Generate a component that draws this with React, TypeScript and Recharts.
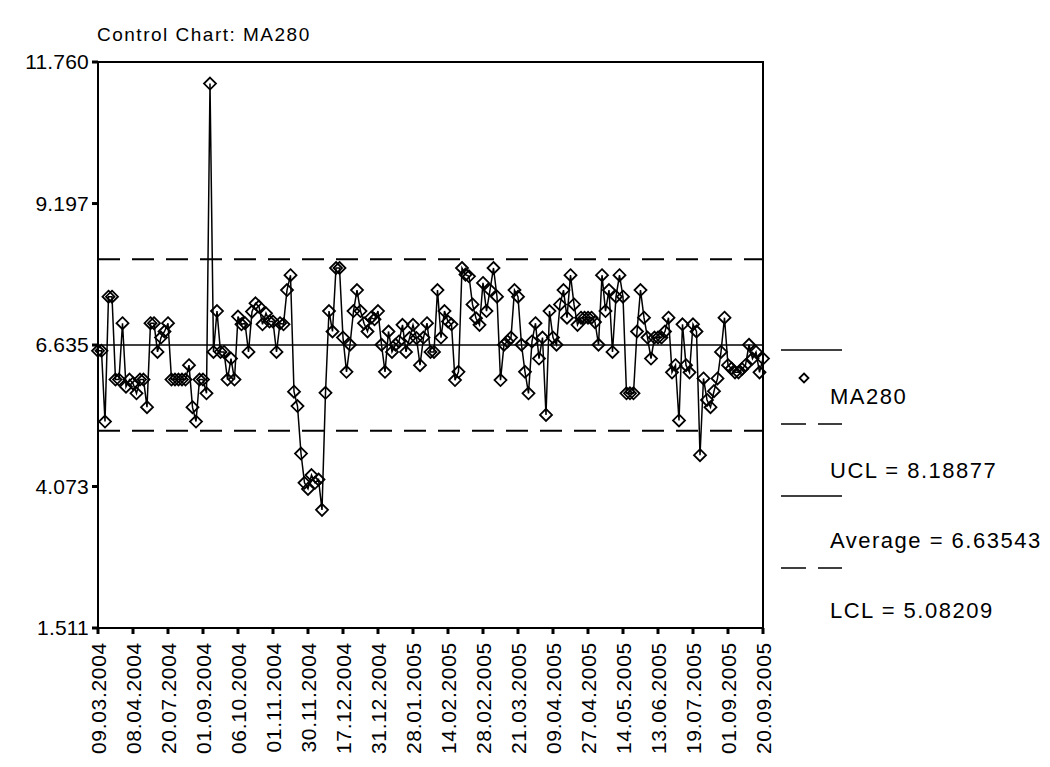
import React from "react";
import {
  LineChart,
  Line,
  XAxis,
  YAxis,
  ReferenceLine,
  ReferenceArea,
} from "recharts";

// tick labels on the category axis (every 10th observation)
const dateLabels = [
  "09.03.2004", "08.04.2004", "20.07.2004", "01.09.2004", "06.10.2004",
  "01.11.2004", "30.11.2004", "17.12.2004", "31.12.2004", "28.01.2005",
  "14.02.2005", "28.02.2005", "21.03.2005", "09.04.2005", "27.04.2005",
  "14.05.2005", "13.06.2005", "19.07.2005", "01.09.2005", "20.09.2005",
];

// MA280 readings
const ma280 = [
  6.53, 6.53, 5.25, 7.51, 7.51, 6.01, 6.01, 7.03, 5.88, 6.01,
  5.94, 5.76, 6.01, 6.01, 5.51, 7.03, 7.03, 6.51, 6.77, 6.88,
  7.03, 6.01, 6.01, 6.01, 6.01, 6.01, 6.27, 5.51, 5.25, 6.01,
  6.01, 5.76, 11.37, 6.51, 7.25, 6.51, 6.51, 6.01, 6.39, 6.01,
  7.15, 7.01, 7.03, 6.51, 7.24, 7.39, 7.33, 7.01, 7.21, 7.06,
  7.06, 6.51, 7.03, 7.01, 7.63, 7.9, 5.79, 5.53, 4.67, 4.14,
  4.03, 4.28, 4.14, 4.2, 3.65, 5.77, 7.25, 6.88, 8.03, 8.03,
  6.77, 6.15, 6.64, 7.25, 7.63, 7.25, 7.03, 6.88, 7.13, 7.1,
  7.25, 6.64, 6.15, 6.88, 6.51, 6.64, 6.7, 7.0, 6.51, 6.76,
  7.0, 6.76, 6.27, 6.77, 7.03, 6.51, 6.51, 7.63, 6.77, 7.25,
  7.06, 7.01, 6.0, 6.15, 8.03, 7.91, 7.88, 7.37, 7.12, 7.0,
  7.76, 7.25, 7.63, 8.03, 7.51, 6.0, 6.64, 6.7, 6.77, 7.63,
  7.51, 6.64, 6.15, 5.76, 6.7, 7.03, 6.39, 6.77, 5.37, 7.25,
  6.77, 6.64, 7.37, 7.63, 7.13, 7.9, 7.37, 7.0, 7.13, 7.13,
  7.13, 7.13, 7.05, 6.64, 7.9, 7.25, 7.63, 6.51, 7.51, 7.9,
  7.51, 5.76, 5.76, 5.76, 6.88, 7.63, 7.13, 6.77, 6.39, 6.77,
  6.77, 6.77, 6.88, 7.13, 6.14, 6.27, 5.27, 7.01, 6.27, 6.14,
  7.01, 6.88, 4.64, 6.03, 5.64, 5.51, 5.8, 6.03, 6.51, 7.13,
  6.27, 6.21, 6.14, 6.14, 6.2, 6.27, 6.64, 6.39, 6.51, 6.14,
  6.39,
];

const yTicks = [1.511, 4.073, 6.635, 9.197, 11.76];
const UCL = 8.18877;
const AVG = 6.63543;
const LCL = 5.08209;

const data = ma280.map((v, i) => ({ i, v }));
const xTicks = dateLabels.map((_, k) => k * 10);

const FONT = "'Liberation Sans', Arial, sans-serif";

const Diamond = (props: any) => {
  const { cx, cy, index } = props;
  if (cx == null || cy == null) return <g key={index} />;
  const r = 6;
  return (
    <path
      key={index}
      d={`M${cx},${cy - r} L${cx + r},${cy} L${cx},${cy + r} L${cx - r},${cy} Z`}
      fill="none"
      stroke="#000"
      strokeWidth={1.8}
    />
  );
};

const DateTick = (props: any) => {
  const { x, y, payload } = props;
  const label = dateLabels[Math.round(payload.value / 10)];
  return (
    <g transform={`translate(${x},${y})`}>
      <text
        transform="rotate(-90)"
        x={-6}
        y={0}
        dy="0.36em"
        textAnchor="end"
        fill="#000"
        fontSize={21}
        letterSpacing={0.7}
        fontFamily={FONT}
      >
        {label}
      </text>
    </g>
  );
};

const legendText = { fontSize: 22, letterSpacing: 1.5, fill: "#000" };

export default function App() {
  return (
    <div style={{ position: "relative", width: 1034, height: 751, fontFamily: FONT }}>
      <div
        style={{
          position: "absolute",
          left: 89,
          top: 17,
          fontSize: 19,
          letterSpacing: 1.5,
          lineHeight: "20px",
          color: "#000",
        }}
      >
        Control Chart: MA280
      </div>

      <LineChart
        width={1034}
        height={751}
        data={data}
        margin={{ top: 54, right: 279, left: 0, bottom: 0 }}
      >
        <XAxis
          dataKey="i"
          type="number"
          domain={[0, 190]}
          ticks={xTicks}
          interval={0}
          height={131}
          tickSize={6}
          tickMargin={2}
          axisLine={{ stroke: "#000", strokeWidth: 2 }}
          tickLine={{ stroke: "#000", strokeWidth: 3 }}
          tick={<DateTick />}
        />
        <YAxis
          type="number"
          domain={[1.511, 11.76]}
          ticks={yTicks}
          interval={0}
          width={90}
          tickSize={6}
          tickMargin={3}
          tickFormatter={(v: number) => v.toFixed(3)}
          axisLine={{ stroke: "#000", strokeWidth: 2 }}
          tickLine={{ stroke: "#000", strokeWidth: 3 }}
          tick={{ fill: "#000", fontSize: 21, fontFamily: FONT, letterSpacing: 0.2 }}
        />
        <ReferenceArea
          x1={0}
          x2={190}
          y1={1.511}
          y2={11.76}
          fill="none"
          stroke="#000"
          strokeWidth={2}
          ifOverflow="visible"
        />
        <ReferenceLine y={UCL} stroke="#000" strokeWidth={2} strokeDasharray="22 12" />
        <ReferenceLine y={AVG} stroke="#000" strokeWidth={1.5} />
        <ReferenceLine y={LCL} stroke="#000" strokeWidth={2} strokeDasharray="22 12" />
        <Line
          type="linear"
          dataKey="v"
          stroke="#000"
          strokeWidth={1.5}
          dot={Diamond}
          activeDot={false}
          isAnimationActive={false}
        />
      </LineChart>

      <svg
        width={264}
        height={300}
        style={{ position: "absolute", left: 770, top: 330 }}
        fontFamily={FONT}
      >
        <g transform="translate(-770,-330)">
          <line x1={773} x2={834} y1={342} y2={342} stroke="#000" strokeWidth={1.5} />
          <path d="M796,365.5 L800.5,370 L796,374.5 L791.5,370 Z" fill="none" stroke="#000" strokeWidth={1.8} />
          <text x={822} y={388} dy="0.35em" {...legendText}>MA280</text>
          <line x1={773} x2={834} y1={416} y2={416} stroke="#000" strokeWidth={1.5} strokeDasharray="25 12" />
          <text x={822} y={462} dy="0.35em" {...legendText}>UCL = 8.18877</text>
          <line x1={773} x2={834} y1={488} y2={488} stroke="#000" strokeWidth={1.5} />
          <text x={822} y={532} dy="0.35em" {...legendText}>Average = 6.63543</text>
          <line x1={773} x2={834} y1={560} y2={560} stroke="#000" strokeWidth={1.5} strokeDasharray="25 12" />
          <text x={822} y={602} dy="0.35em" {...legendText}>LCL = 5.08209</text>
        </g>
      </svg>
    </div>
  );
}
